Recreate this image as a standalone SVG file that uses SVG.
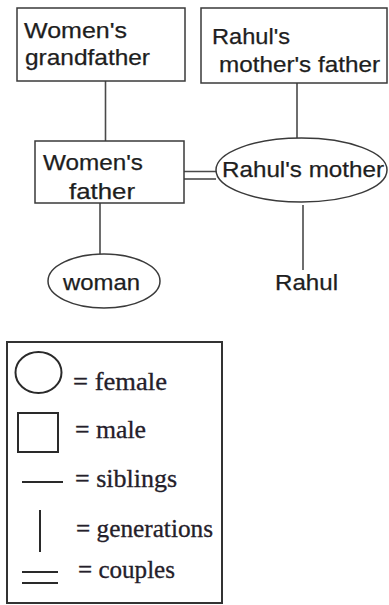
<svg xmlns="http://www.w3.org/2000/svg" width="389" height="605" viewBox="0 0 389 605">
  <style>
    .box { fill: #fff; stroke: #3a3a3a; stroke-width: 1.5; }
    .lbl { font-family: "Liberation Sans", Arial, sans-serif; font-size: 21.5px; fill: #1e1e1e; stroke: #1e1e1e; stroke-width: 0.25; }
    .link { stroke: #4a4a4a; stroke-width: 1.6; fill: none; }
    .key { font-family: "Liberation Serif", "Times New Roman", serif; font-size: 25px; fill: #24202a; stroke: #24202a; stroke-width: 0.3; }
    .keyshape { fill: none; stroke: #2a2a2a; stroke-width: 2; }
  </style>
  <rect width="389" height="605" fill="#fff"/>

  <!-- connectors -->
  <g id="connectors">
    <line class="link" x1="105.5" y1="81" x2="105.5" y2="141"/>
    <line class="link" x1="297" y1="83" x2="297" y2="138"/>
    <line class="link" x1="100" y1="203" x2="100" y2="254"/>
    <line class="link" x1="303" y1="205" x2="303" y2="270"/>
    <!-- couple link -->
    <line class="link" x1="184" y1="171.5" x2="219" y2="171.5"/>
    <line class="link" x1="184" y1="179" x2="216" y2="179"/>
  </g>

  <g id="womens-grandfather">
    <rect class="box" x="17" y="8" width="168" height="73"/>
    <text class="lbl" x="24" y="38" textLength="103" lengthAdjust="spacingAndGlyphs">Women's</text>
    <text class="lbl" x="25" y="65" textLength="125" lengthAdjust="spacingAndGlyphs">grandfather</text>
  </g>

  <g id="rahuls-mothers-father">
    <rect class="box" x="201" y="8" width="186" height="75"/>
    <text class="lbl" x="212" y="44" textLength="78" lengthAdjust="spacingAndGlyphs">Rahul's</text>
    <text class="lbl" x="219" y="72" textLength="161" lengthAdjust="spacingAndGlyphs">mother's father</text>
  </g>

  <g id="womens-father">
    <rect class="box" x="35" y="141" width="149" height="62"/>
    <text class="lbl" x="43" y="170" textLength="100" lengthAdjust="spacingAndGlyphs">Women's</text>
    <text class="lbl" x="69" y="199" textLength="66" lengthAdjust="spacingAndGlyphs">father</text>
  </g>

  <g id="rahuls-mother">
    <ellipse class="box" cx="301.5" cy="170" rx="85.5" ry="32"/>
    <text class="lbl" x="222" y="177" textLength="162" lengthAdjust="spacingAndGlyphs">Rahul's mother</text>
  </g>

  <g id="woman">
    <ellipse class="box" cx="104" cy="281" rx="56" ry="27"/>
    <text class="lbl" x="63" y="290" textLength="77" lengthAdjust="spacingAndGlyphs">woman</text>
  </g>

  <g id="rahul">
    <text class="lbl" x="275" y="290" textLength="63" lengthAdjust="spacingAndGlyphs">Rahul</text>
  </g>

  <!-- key -->
  <g id="legend">
    <rect x="7" y="342" width="215" height="261" fill="#fff" stroke="#333" stroke-width="2"/>
    <ellipse class="keyshape" cx="38.5" cy="372.5" rx="23" ry="20.5"/>
    <text class="key" x="73" y="390" textLength="94" lengthAdjust="spacingAndGlyphs">= female</text>
    <rect class="keyshape" x="18" y="413" width="40" height="39"/>
    <text class="key" x="75" y="438" textLength="71" lengthAdjust="spacingAndGlyphs">= male</text>
    <line class="keyshape" x1="22" y1="482" x2="63" y2="482"/>
    <text class="key" x="75" y="487" textLength="102" lengthAdjust="spacingAndGlyphs">= siblings</text>
    <line class="keyshape" x1="40" y1="510" x2="40" y2="552"/>
    <text class="key" x="76" y="537" textLength="137" lengthAdjust="spacingAndGlyphs">= generations</text>
    <line class="keyshape" x1="22" y1="572" x2="58" y2="572"/>
    <line class="keyshape" x1="22" y1="583" x2="58" y2="583"/>
    <text class="key" x="78" y="578" textLength="97" lengthAdjust="spacingAndGlyphs">= couples</text>
  </g>
</svg>
